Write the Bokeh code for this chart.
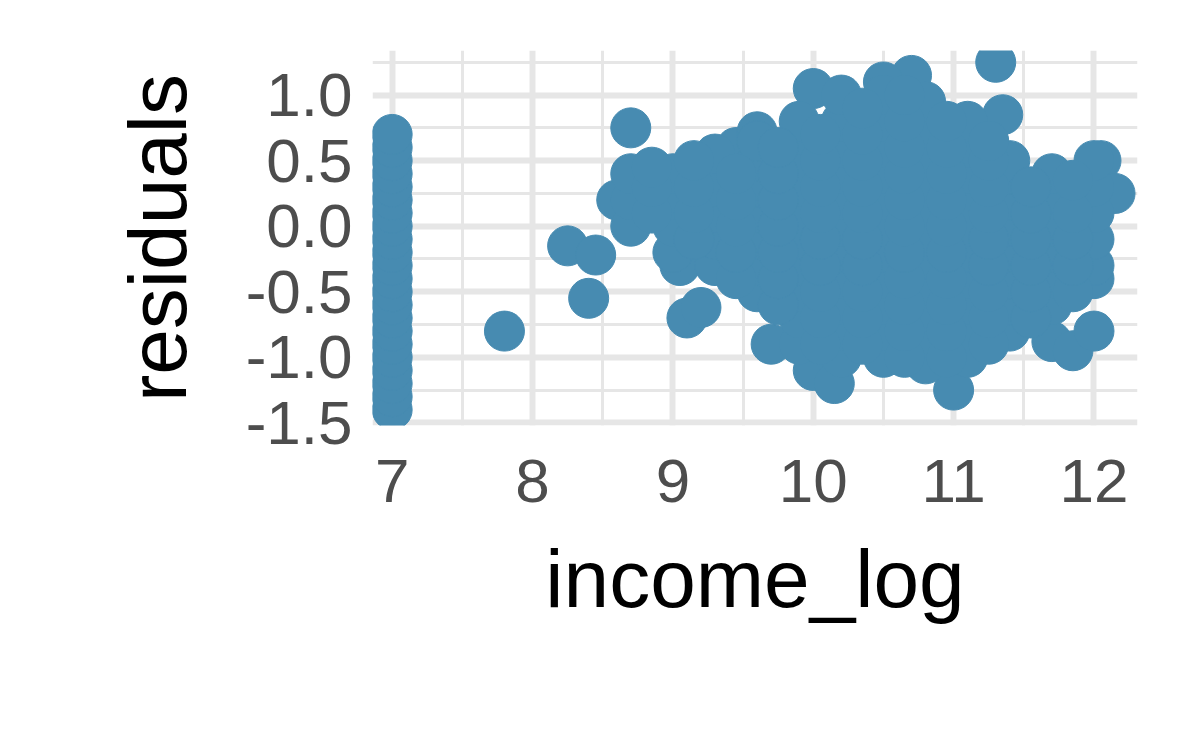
from bokeh.models import ColumnDataSource, FixedTicker
from bokeh.plotting import figure
from bokeh.embed import file_html
from bokeh.resources import INLINE

POINT_COLOR = "#478bb1"

# column of points at the lowest income_log value
col_x = [7.0] * 22
col_y = [-1.4, -1.3, -1.2, -1.1, -1.0, -0.9, -0.8, -0.7, -0.6, -0.5, -0.4,
         -0.3, -0.2, -0.1, 0.0, 0.1, 0.2, 0.3, 0.4, 0.5, 0.6, 0.7]

# scattered outliers
out_x = [7.8, 8.25, 8.45, 8.4, 8.7, 8.6, 8.8, 9.05, 9.1, 9.2, 9.7, 10.0, 10.0,
         10.15, 11.0, 11.3, 11.35, 10.7, 10.5, 11.7, 11.85, 12.0, 12.0, 12.05,
         12.15, 11.95, 9.45, 9.6]
out_y = [-0.8, -0.15, -0.22, -0.55, 0.75, 0.2, 0.4, -0.3, -0.7, -0.62, -0.9,
         1.05, -1.1, -1.2, -1.25, 1.25, 0.85, 1.15, 1.1, -0.88, -0.95, -0.8,
         -0.4, 0.5, 0.25, 0.1, 0.6, 0.72]

# main cloud
blob_x = ([8.7] * 3 + [9.0] * 4 + [9.3] * 5 + [9.6] * 7 + [9.9] * 10 +
          [10.2] * 11 + [10.5] * 11 + [10.8] * 11 + [11.1] * 10 +
          [11.4] * 8 + [11.7] * 6 + [12.0] * 5 +
          [8.85] * 3 + [9.15] * 4 + [9.45] * 5 + [9.75] * 7 + [10.05] * 9 +
          [10.35] * 10 + [10.65] * 11 + [10.95] * 10 + [11.25] * 9 +
          [11.55] * 6 + [11.85] * 5)
blob_y = ([0.0, 0.2, 0.4] +
          [-0.2, 0.0, 0.2, 0.4] +
          [-0.3, -0.1, 0.1, 0.3, 0.55] +
          [-0.5, -0.3, -0.1, 0.1, 0.3, 0.5, 0.65] +
          [-0.9, -0.7, -0.5, -0.3, -0.1, 0.1, 0.3, 0.5, 0.7, 0.8] +
          [-1.0, -0.8, -0.6, -0.4, -0.2, 0.0, 0.2, 0.4, 0.6, 0.8, 1.0] +
          [-1.0, -0.8, -0.6, -0.4, -0.2, 0.0, 0.2, 0.4, 0.6, 0.8, 1.0] +
          [-1.05, -0.85, -0.65, -0.45, -0.25, -0.05, 0.15, 0.35, 0.55, 0.75, 0.95] +
          [-1.0, -0.8, -0.6, -0.4, -0.2, 0.0, 0.2, 0.4, 0.6, 0.8] +
          [-0.8, -0.6, -0.4, -0.2, 0.0, 0.2, 0.4, 0.5] +
          [-0.6, -0.4, -0.2, 0.0, 0.2, 0.4] +
          [-0.3, -0.1, 0.1, 0.3, 0.5] +
          [0.1, 0.3, 0.45] +
          [-0.1, 0.1, 0.3, 0.5] +
          [-0.4, -0.2, 0.0, 0.2, 0.4] +
          [-0.6, -0.4, -0.2, 0.0, 0.2, 0.4, 0.6] +
          [-0.9, -0.7, -0.5, -0.3, -0.1, 0.1, 0.3, 0.5, 0.7] +
          [-0.9, -0.7, -0.5, -0.3, -0.1, 0.1, 0.3, 0.5, 0.7, 0.9] +
          [-1.0, -0.8, -0.6, -0.4, -0.2, 0.0, 0.2, 0.4, 0.6, 0.8, 1.0] +
          [-1.0, -0.8, -0.6, -0.4, -0.2, 0.0, 0.2, 0.4, 0.6, 0.8] +
          [-0.9, -0.7, -0.5, -0.3, -0.1, 0.1, 0.3, 0.5, 0.65] +
          [-0.7, -0.5, -0.3, -0.1, 0.1, 0.3] +
          [-0.5, -0.3, -0.1, 0.1, 0.35])

x_ticks = [7, 8, 9, 10, 11, 12]
x_minor = [7.5, 8.5, 9.5, 10.5, 11.5]
y_ticks = [-1.5, -1.0, -0.5, 0.0, 0.5, 1.0]
y_minor = [-1.25, -0.75, -0.25, 0.25, 0.75, 1.25]

source = ColumnDataSource(dict(x=col_x + out_x + blob_x, y=col_y + out_y + blob_y))

p = figure(width=1184, height=725, output_backend="svg", toolbar_location=None,
           x_range=(6.86, 12.31), y_range=(-1.52, 1.34),
           min_border_left=372, min_border_right=47, min_border_top=50,
           min_border_bottom=300)
p.outline_line_color = None
p.background_fill_color = "white"

p.scatter("x", "y", source=source, size=40, color=POINT_COLOR)

p.xaxis.ticker = FixedTicker(ticks=x_ticks, minor_ticks=x_minor)
p.yaxis.ticker = FixedTicker(ticks=y_ticks, minor_ticks=y_minor)
p.yaxis.major_label_overrides = {-1.5: "-1.5", -1.0: "-1.0", -0.5: "-0.5",
                                 0.0: "0.0", 0.5: "0.5", 1.0: "1.0"}

for g in (p.xgrid, p.ygrid):
    g.grid_line_color = "#e6e6e6"
    g.grid_line_width = 6
    g.minor_grid_line_color = "#e6e6e6"
    g.minor_grid_line_width = 3

for ax in (p.xaxis, p.yaxis):
    ax.axis_line_color = None
    ax.major_tick_line_color = None
    ax.minor_tick_line_color = None
    ax.major_label_text_font = "Liberation Sans"
    ax.major_label_text_font_size = "62px"
    ax.major_label_text_color = "#4d4d4d"
    ax.axis_label_text_font = "Liberation Sans"
    ax.axis_label_text_font_size = "82px"
    ax.axis_label_text_font_style = "normal"
    ax.axis_label_text_color = "black"

p.xaxis.axis_label = "income_log"
p.yaxis.axis_label = "residuals"
p.xaxis.major_label_standoff = 28
p.yaxis.major_label_standoff = 14
p.xaxis.axis_label_standoff = 28
p.yaxis.axis_label_standoff = 40

open("out.html", "w").write(file_html(p, INLINE))
